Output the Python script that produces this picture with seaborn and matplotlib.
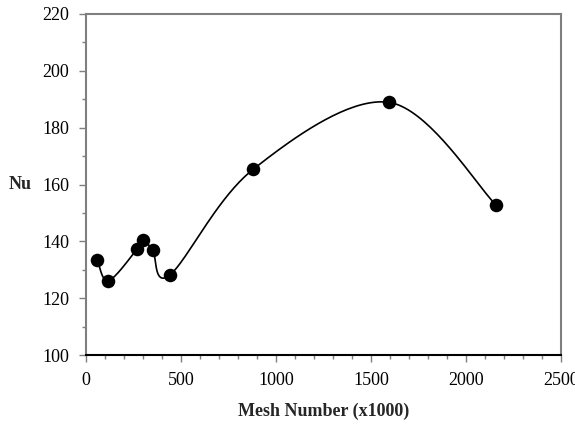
import numpy as np
import pandas as pd
import matplotlib
matplotlib.use("Agg")
import matplotlib.pyplot as plt
from matplotlib.ticker import MultipleLocator
import seaborn as sns

# Grid-independence study: Nusselt number vs. mesh size
mesh = [60, 118, 268, 300, 351, 442, 879, 1595, 2158]
nu = [133.4, 126.1, 137.2, 140.6, 136.8, 128.2, 165.3, 188.9, 152.8]

df = pd.DataFrame({"mesh": mesh, "nu": nu})

sns.set_theme(style="white")
plt.rcParams["font.family"] = ["Liberation Serif", "DejaVu Serif"]


def smooth_curve(x, y, n=40):
    """Spreadsheet-style smoothed line: cubic Bezier segments with
    Catmull-Rom control points (tension 1/6)."""
    x = np.asarray(x, float)
    y = np.asarray(y, float)
    px = np.concatenate([[x[0]], x, [x[-1]]])
    py = np.concatenate([[y[0]], y, [y[-1]]])
    xs, ys = [], []
    t = np.linspace(0, 1, n)
    for i in range(1, len(px) - 2):
        p0 = np.array([px[i], py[i]])
        p3 = np.array([px[i + 1], py[i + 1]])
        p1 = p0 + (np.array([px[i + 1], py[i + 1]]) - np.array([px[i - 1], py[i - 1]])) / 6
        p2 = p3 - (np.array([px[i + 2], py[i + 2]]) - np.array([px[i], py[i]])) / 6
        b = ((1 - t) ** 3)[:, None] * p0 + (3 * (1 - t) ** 2 * t)[:, None] * p1 \
            + (3 * (1 - t) * t ** 2)[:, None] * p2 + (t ** 3)[:, None] * p3
        xs.append(b[:, 0])
        ys.append(b[:, 1])
    return np.concatenate(xs), np.concatenate(ys)


fig = plt.figure(figsize=(5.75, 4.32), dpi=100)
ax = fig.add_axes([86 / 575, 1 - 355 / 432, (561 - 86) / 575, (355 - 14) / 432])

cx, cy = smooth_curve(mesh, nu)
curve = pd.DataFrame({"mesh": cx, "nu": cy})
sns.lineplot(data=curve, x="mesh", y="nu", ax=ax, color="black", lw=1.2,
             sort=False, estimator=None)
sns.scatterplot(data=df, x="mesh", y="nu", ax=ax, color="black", s=95,
                edgecolor="black", linewidth=0, zorder=3)

ax.set_xlim(0, 2500)
ax.set_ylim(100, 220)
ax.xaxis.set_major_locator(MultipleLocator(500))
ax.xaxis.set_minor_locator(MultipleLocator(100))
ax.yaxis.set_major_locator(MultipleLocator(20))
ax.yaxis.set_minor_locator(MultipleLocator(10))

ax.tick_params(which="major", direction="out", length=5, width=1,
               color="#7f7f7f", labelsize=13, labelcolor="black",
               bottom=True, left=True, pad=7)
ax.tick_params(which="minor", direction="out", length=3, width=1,
               color="#7f7f7f", bottom=True, left=True)

for side in ["left", "right", "top"]:
    ax.spines[side].set_color("#7f7f7f")
    ax.spines[side].set_linewidth(1.5)
ax.spines["bottom"].set_color("black")
ax.spines["bottom"].set_linewidth(1.5)

ax.set_xlabel("Mesh Number (x1000)", fontsize=13, fontweight="bold", labelpad=10)
ax.set_ylabel("Nu", fontsize=13, fontweight="bold", rotation=0, labelpad=16,
              va="center")
for lab in ax.get_xticklabels() + ax.get_yticklabels():
    lab.set_clip_on(False)

fig.savefig("out.png", dpi=100)
